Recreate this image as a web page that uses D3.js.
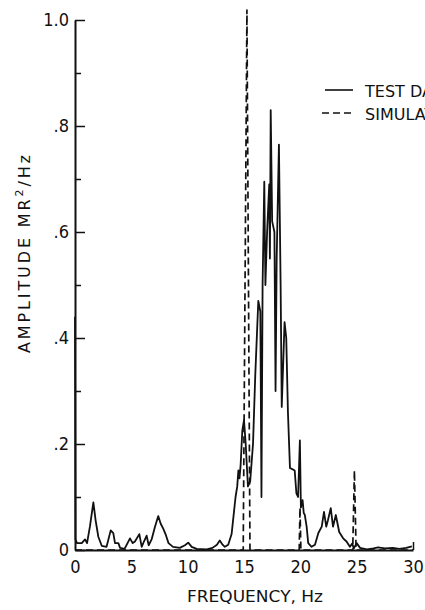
<!DOCTYPE html>
<html>
<head>
<meta charset="utf-8">
<script src="https://cdn.jsdelivr.net/npm/d3@7"></script>
<style>
  html, body { margin: 0; padding: 0; background: #fff; }
  svg { display: block; overflow: hidden; }
  .tick-label { font-family: "Liberation Sans Narrow", "DejaVu Sans Condensed", "Liberation Sans", sans-serif; font-size: 18px; fill: #111; }
  .title { font-family: "DejaVu Sans", "Liberation Sans", sans-serif; font-size: 16px; fill: #111; }
</style>
</head>
<body>
<svg id="chart" width="425" height="610"></svg>
<script>
// ---- data ----
const testFreq = [0, 0.04, 0.18, 0.6, 0.89, 1.07, 1.33, 1.63, 1.83, 2.07, 2.37, 2.8, 3.17, 3.4, 3.55, 3.85, 4.0, 4.4, 4.88, 5.12, 5.32, 5.71, 5.92, 6.12, 6.36, 6.54, 6.8, 7.1, 7.39, 7.6, 7.84, 8.07, 8.3, 8.7, 9.3, 9.76, 10.05, 10.36, 10.8, 11.7, 12.2, 12.6, 12.85, 13.1, 13.3, 13.6, 13.9, 14.1, 14.25, 14.4, 14.5, 14.6, 14.7, 14.85, 15.0, 15.15, 15.35, 15.55, 15.8, 16.0, 16.27, 16.45, 16.55, 16.65, 16.8, 16.9, 17.05, 17.24, 17.3, 17.37, 17.5, 17.7, 17.8, 17.9, 18.1, 18.25, 18.35, 18.6, 18.75, 18.9, 19.08, 19.5, 19.65, 19.8, 19.96, 20.05, 20.2, 20.3, 20.4, 20.56, 20.7, 21.0, 21.3, 21.6, 21.9, 22.1, 22.3, 22.45, 22.7, 22.9, 23.15, 23.45, 23.8, 24.1, 24.4, 24.6, 24.75, 25.0, 25.3, 25.9, 26.5, 26.9, 27.5, 28.2, 28.8, 29.4, 29.9];
const testAmp = [0.44, 0.02, 0.013, 0.013, 0.02, 0.013, 0.045, 0.09, 0.056, 0.025, 0.008, 0.006, 0.037, 0.032, 0.013, 0.013, 0.004, 0.002, 0.022, 0.013, 0.016, 0.03, 0.006, 0.016, 0.027, 0.009, 0.02, 0.044, 0.064, 0.05, 0.04, 0.028, 0.013, 0.006, 0.004, 0.009, 0.014, 0.006, 0.002, 0.001, 0.004, 0.01, 0.018, 0.01, 0.006, 0.01, 0.03, 0.07, 0.1, 0.12, 0.15, 0.135, 0.16, 0.225, 0.245, 0.2, 0.12, 0.13, 0.2, 0.33, 0.47, 0.45, 0.1, 0.5, 0.695, 0.5, 0.6, 0.69, 0.55, 0.83, 0.62, 0.6, 0.3, 0.55, 0.765, 0.5, 0.27, 0.43, 0.4, 0.26, 0.155, 0.15, 0.107, 0.1, 0.207, 0.08, 0.094, 0.07, 0.066, 0.044, 0.013, 0.006, 0.01, 0.032, 0.044, 0.072, 0.044, 0.056, 0.079, 0.044, 0.066, 0.034, 0.022, 0.016, 0.006, 0.012, 0.003, 0.013, 0.004, 0.001, 0.003, 0.005, 0.003, 0.004, 0.002, 0.004, 0.007];

const simFreq = [0, 14.93, 15.26, 15.53, 19.9, 19.97, 20.05, 24.65, 24.8, 24.95, 30];
const simAmp  = [0, 0, 1.02, 0, 0, 0.08, 0, 0, 0.15, 0, 0];

const xTicks = [0, 5, 10, 15, 20, 25, 30];
const yMajorTicks = [0, 0.2, 0.4, 0.6, 0.8, 1.0];
const yMajorLabels = ["0", ".2", ".4", ".6", ".8", "1.0"];
const yMinorTicks = [0.1, 0.3, 0.5, 0.7, 0.9];
const legendLabels = ["TEST DATA", "SIMULATION"];

// ---- drawing ----
const svg = d3.select("#chart");
svg.append("rect").attr("width", 425).attr("height", 610).attr("fill", "#fff");

const x = d3.scaleLinear().domain([0, 30]).range([75, 413]);
const y = d3.scaleLinear().domain([0, 1]).range([550, 20]);

// data lines
const line = d3.line().x(d => x(d[0])).y(d => y(d[1]));
const testData = testFreq.map((f, i) => [f, testAmp[i]]);
const simData = simFreq.map((f, i) => [f, simAmp[i]]);

svg.append("path").datum(simData)
  .attr("d", line).attr("fill", "none").attr("stroke", "#111")
  .attr("stroke-width", 1.7).attr("stroke-dasharray", "7,4");

svg.append("path").datum(testData)
  .attr("d", line).attr("fill", "none").attr("stroke", "#111")
  .attr("stroke-width", 1.8).attr("stroke-linejoin", "round");

// y axis: major ticks with labels
const yAxis = d3.axisLeft(y).tickValues(yMajorTicks)
  .tickSizeInner(-10).tickSizeOuter(0).tickPadding(6)
  .tickFormat((d, i) => yMajorLabels[i]);
const gy = svg.append("g").attr("transform", "translate(75,0)").call(yAxis);
gy.select(".domain").attr("stroke", "#111").attr("stroke-width", 2);
gy.selectAll(".tick line").attr("stroke", "#111").attr("stroke-width", 1.5);
gy.selectAll(".tick text").attr("class", "tick-label").attr("font-size", null).attr("font-family", null);

// y axis: minor ticks
const yMinor = d3.axisLeft(y).tickValues(yMinorTicks)
  .tickSizeInner(-6).tickSizeOuter(0).tickFormat("");
const gy2 = svg.append("g").attr("transform", "translate(75,0)").call(yMinor);
gy2.select(".domain").remove();
gy2.selectAll(".tick line").attr("stroke", "#111").attr("stroke-width", 1.5);

// x axis
const xAxis = d3.axisBottom(x).tickValues(xTicks).tickSize(0).tickPadding(10)
  .tickFormat(d3.format("d"));
const gx = svg.append("g").attr("transform", "translate(0,550)").call(xAxis);
gx.select(".domain").attr("stroke", "#111").attr("stroke-width", 2);
gx.selectAll(".tick text").attr("class", "tick-label").attr("font-size", null).attr("font-family", null);

// small end tick at 30
const xEnd = d3.axisBottom(x).tickValues([30]).tickSizeInner(-8).tickSizeOuter(0).tickFormat("");
const gx2 = svg.append("g").attr("transform", "translate(0,550)").call(xEnd);
gx2.select(".domain").remove();
gx2.selectAll(".tick line").attr("stroke", "#111").attr("stroke-width", 1.5);

// axis titles
svg.append("text").attr("class", "title")
  .attr("x", 255).attr("y", 602).attr("text-anchor", "middle")
  .attr("textLength", 136).attr("lengthAdjust", "spacingAndGlyphs")
  .text("FREQUENCY, Hz");

const yt = svg.append("text").attr("class", "title")
  .attr("font-size", 17)
  .attr("transform", "translate(30,254) rotate(-90)")
  .attr("text-anchor", "middle")
  .attr("textLength", 198).attr("lengthAdjust", "spacing");
yt.append("tspan").text("AMPLITUDE\u00A0MR");
yt.append("tspan").attr("font-size", 11).attr("dy", -7).text("2");
yt.append("tspan").attr("dy", 7).text("/Hz");

// legend (the reference crops its legend text at the right edge)
const legend = svg.append("g");
legend.append("line").attr("x1", 325).attr("x2", 353).attr("y1", 90).attr("y2", 90)
  .attr("stroke", "#111").attr("stroke-width", 1.6);
legend.append("line").attr("x1", 322).attr("x2", 354).attr("y1", 113).attr("y2", 113)
  .attr("stroke", "#111").attr("stroke-width", 1.6).attr("stroke-dasharray", "7,4");
legend.append("text").attr("class", "title").attr("x", 365).attr("y", 97).text(legendLabels[0]);
legend.append("text").attr("class", "title").attr("x", 365).attr("y", 120).text(legendLabels[1]);
</script>
</body>
</html>
